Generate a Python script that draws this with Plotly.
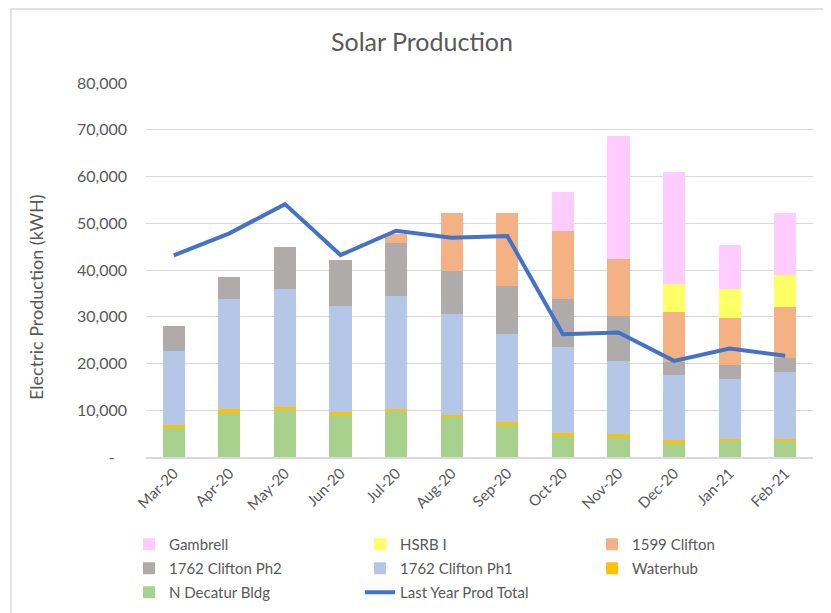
import plotly.graph_objects as go

months = ["Mar-20", "Apr-20", "May-20", "Jun-20", "Jul-20", "Aug-20",
          "Sep-20", "Oct-20", "Nov-20", "Dec-20", "Jan-21", "Feb-21"]

n_decatur = [6120, 9400, 9960, 8900, 9750, 8540, 6900, 4480, 4340, 3060, 3350, 3350]
waterhub = [640, 780, 780, 640, 570, 430, 640, 640, 570, 500, 430, 570]
clifton_ph1 = [15870, 23700, 25130, 22700, 24130, 21640, 18860, 18500, 15520, 13880, 12880, 14160]
clifton_ph2 = [5410, 4560, 8970, 9960, 11390, 9250, 10250, 10180, 9750, 2850, 2990, 3200]
clifton_1599 = [0, 0, 0, 0, 1900, 12310, 15520, 14590, 12240, 10750, 10040, 10750]
hsrb = [0, 0, 0, 0, 0, 0, 0, 0, 0, 6050, 6190, 6830]
gambrell = [0, 0, 0, 0, 0, 0, 0, 8260, 26330, 23910, 9400, 13310]
last_year_total = [43130, 47830, 54090, 43200, 48400, 46900, 47260, 26260, 26620, 20570, 23200, 21640]

y_tickvals = [0, 10000, 20000, 30000, 40000, 50000, 60000, 70000, 80000]
y_ticktext = ["-\u00a0\u00a0\u00a0", "10,000", "20,000", "30,000", "40,000",
              "50,000", "60,000", "70,000", "80,000"]

FONT = "Lato, 'Open Sans', sans-serif"
TXT = "#595959"

# name, values, color, legend, rank
bar_series = [
    ("N Decatur Bldg", n_decatur, "#A9D18E", "legend", 3),
    ("Waterhub", waterhub, "#FFC000", "legend3", 2),
    ("1762 Clifton Ph1", clifton_ph1, "#B4C7E7", "legend2", 2),
    ("1762 Clifton Ph2", clifton_ph2, "#AFABAB", "legend", 2),
    ("1599 Clifton", clifton_1599, "#F4B183", "legend3", 1),
    ("HSRB I", hsrb, "#FFFF66", "legend2", 1),
    ("Gambrell", gambrell, "#FFCCFF", "legend", 1),
]

fig = go.Figure()
for name, vals, color, leg, rank in bar_series:
    fig.add_trace(go.Bar(
        x=months, y=vals, name=name, marker=dict(color=color, line=dict(width=0)),
        legend=leg, legendrank=rank, legendgroup=name,
    ))

fig.add_trace(go.Scatter(
    x=months, y=last_year_total, name="Last Year Prod Total", mode="lines",
    line=dict(color="#4472C4", width=4), legend="legend2", legendrank=3,
    legendgroup="lastyear",
))

# page is offset by 8px body margin; work in page pixels and convert
OFF = 8
W, H = 831 - OFF, 613 - OFF
L, R, T, B = 146 - OFF, 831 - 813, 83 - OFF, 613 - 457
pw, ph = W - L - R, H - T - B

def px_x(px):  # page px -> paper
    return (px - OFF - L) / pw

def px_y(py):  # page px -> paper
    return (H - B - (py - OFF)) / ph

leg_common = dict(
    orientation="v", xanchor="left", yanchor="top", bgcolor="rgba(0,0,0,0)",
    font=dict(family=FONT, size=15, color=TXT), traceorder="grouped",
    tracegroupgap=1.5, itemwidth=30,
)
leg_y = px_y(528)

fig.update_layout(
    width=W, height=H,
    margin=dict(l=L, r=R, t=T, b=B, autoexpand=False),
    paper_bgcolor="white", plot_bgcolor="white",
    barmode="stack", bargap=0.6,
    font=dict(family=FONT, color=TXT),
    title=dict(text="Solar Production", x=px_x(422), xref="paper", xanchor="center",
               y=1 - (42 - OFF) / H, yref="container", yanchor="middle",
               font=dict(family=FONT, size=25, color=TXT)),
    yaxis=dict(range=[0, 80000], tickvals=y_tickvals, ticktext=y_ticktext,
               showgrid=True, gridcolor="#D9D9D9", gridwidth=1, zeroline=False,
               showline=False, ticks="", ticklabelstandoff=18,
               tickfont=dict(family=FONT, size=16, color=TXT)),
    xaxis=dict(type="category", tickangle=-45, showgrid=False, showline=True,
               linecolor="#D9D9D9", linewidth=1.5, ticks="",
               tickfont=dict(family=FONT, size=15, color=TXT)),
    legend=dict(x=px_x(129), y=leg_y, **leg_common),
    legend2=dict(x=px_x(360), y=leg_y, **leg_common),
    legend3=dict(x=px_x(592), y=leg_y, **leg_common),
    annotations=[
        dict(text="Electric Production (kWH)", textangle=-90, showarrow=False,
             xref="paper", yref="paper", x=px_x(36), y=px_y(297),
             xanchor="center", yanchor="middle",
             font=dict(family=FONT, size=18, color=TXT)),
    ],
    shapes=[
        dict(type="line", xref="paper", yref="paper", x0=px_x(11), x1=px_x(840),
             y0=px_y(9), y1=px_y(9), line=dict(color="#D9D9D9", width=1.5), layer="below"),
        dict(type="line", xref="paper", yref="paper", x0=px_x(11), x1=px_x(11),
             y0=px_y(9), y1=px_y(620), line=dict(color="#D9D9D9", width=1.5), layer="below"),
    ],
)

fig.write_html("out.html")
